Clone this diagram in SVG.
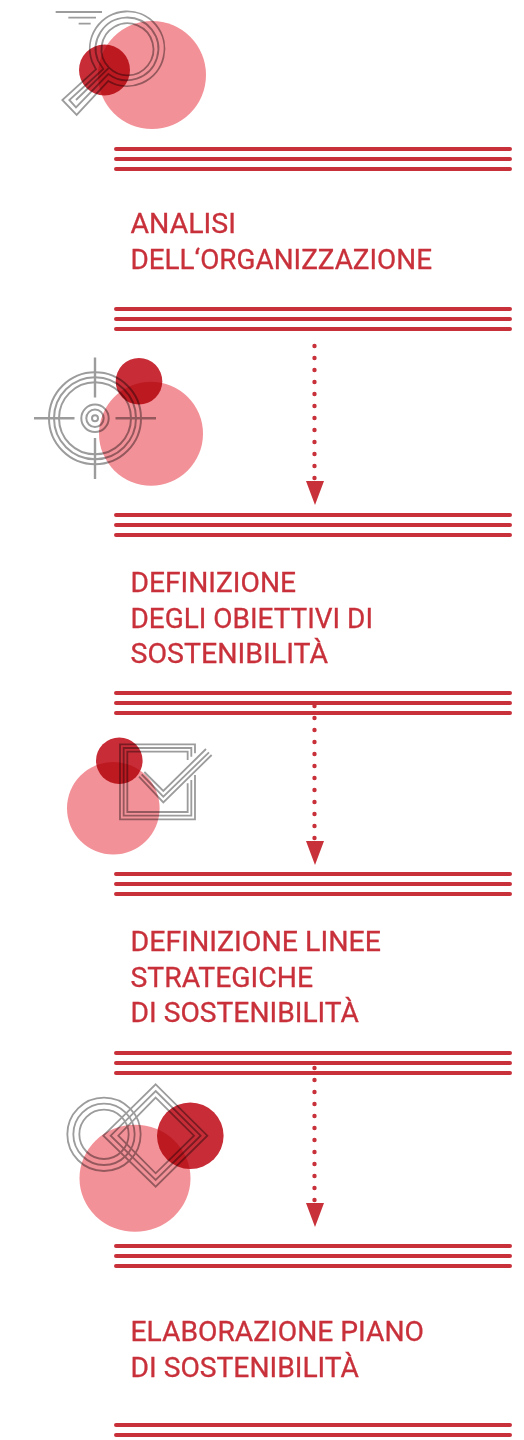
<svg xmlns="http://www.w3.org/2000/svg" width="524" height="1440" viewBox="0 0 524 1440">
<style>
.big{fill:#f39198}
.small{fill:#c72c37;mix-blend-mode:multiply}
.ln{fill:none;stroke:#9c9c9c;mix-blend-mode:multiply}
.bar{stroke:#c8303a;stroke-width:4;stroke-linecap:round;fill:none}
.dot{stroke:#c8303a;stroke-width:4.400;stroke-linecap:round;stroke-dasharray:0 12;fill:none}
.head{fill:#c8303a}
text{font-family:"Roboto","Liberation Sans",sans-serif;font-size:27px;fill:#c8303a;stroke:#c8303a;stroke-width:.3px}
</style>
<rect width="524" height="1440" fill="#fff"/>
<g id="connectors">
<path class="dot" d="M314.500 346V480"/><path class="head" d="M306 481H324L315 505Z"/>
<path class="dot" d="M314.500 706V840"/><path class="head" d="M306 841H324L315 865Z"/>
<path class="dot" d="M314.500 1068V1202"/><path class="head" d="M306 1203H324L315 1227Z"/>
</g>
<g id="icon-1">
<circle class="big" cx="152" cy="75" r="54"/>
<circle class="small" cx="104.500" cy="70" r="25.500"/>
<g class="ln" transform="translate(40 0) scale(.3333)" stroke-width="5.500">
<path d="M47 36H186M85 53H168M116 71H152"/>
<path d="M168 208L67 300L110 345L205 243A112 112 0 1 0 156 184Z"/>
<path d="M190 207L88 300L108 322L205 222A94 94 0 1 0 174 182Z"/>
<path d="M108 300L207 203A78 78 0 1 1 262 226A78 78 0 0 1 207 203"/>
</g>
</g>
<g id="icon-2">
<circle class="big" cx="151" cy="433.700" r="52"/>
<circle class="small" cx="139" cy="381.300" r="23.300"/>
<g class="ln" stroke-width="2">
<circle cx="95" cy="418.300" r="46"/><circle cx="95" cy="418.300" r="41"/><circle cx="95" cy="418.300" r="36"/>
<circle cx="95" cy="418.300" r="13.700"/><circle cx="95" cy="418.300" r="8.700"/><circle cx="95" cy="418.300" r="3"/>
<path stroke-width="2.400" d="M95 357.500V397.500M95 438V479M34 418.300H74.500M115.500 418.300H156"/>
</g>
</g>
<g id="icon-3">
<circle class="big" cx="113.300" cy="808.300" r="46.300"/>
<circle class="small" cx="119.300" cy="760.700" r="23.300"/>
<g class="ln" transform="translate(50 725) scale(.3333)" stroke-width="5.500">
<path d="M435 150V283H210V58H435V85"/>
<path d="M424 165V272H221V69H424V95"/>
<path d="M413 175V261H232V80H413V105"/>
<path d="M267 155L340 232L485 90M275 148L340 215L477 82M283 141L340 198L468 72"/>
</g>
</g>
<g id="icon-4">
<ellipse class="big" cx="135" cy="1178.300" rx="55.500" ry="53.500"/>
<circle class="small" cx="190.300" cy="1135.700" r="33.300"/>
<g class="ln" transform="translate(50 1075) scale(.3333)" stroke-width="5.500">
<circle cx="162" cy="178" r="110"/><circle cx="162" cy="178" r="92"/><circle cx="162" cy="178" r="74"/>
<path d="M317 28L472 182L317 335L160 182Z"/>
<path d="M317 48L452 182L317 315L182 182Z"/>
<path d="M317 68L432 182L317 295L205 182Z"/>
</g>
</g>
<g id="bars">
<path class="bar" d="M116 149H510M116 159H510M116 169H510"/>
<path class="bar" d="M116 309H510M116 319H510M116 329H510"/>
<path class="bar" d="M116 515H510M116 525H510M116 535H510"/>
<path class="bar" d="M116 693H510M116 703H510M116 713H510"/>
<path class="bar" d="M116 874H510M116 884H510M116 894H510"/>
<path class="bar" d="M116 1053H510M116 1063H510M116 1073H510"/>
<path class="bar" d="M116 1246H510M116 1256H510M116 1266H510"/>
<path class="bar" d="M116 1425H510M116 1435H510"/>
</g>
<g id="step-1">
<text x="130.500" y="233" textLength="105.500" lengthAdjust="spacingAndGlyphs">ANALISI</text>
<text x="130.500" y="269" textLength="301.500" lengthAdjust="spacingAndGlyphs">DELL‘ORGANIZZAZIONE</text>
</g>
<g id="step-2">
<text x="130.500" y="592" textLength="165.500" lengthAdjust="spacingAndGlyphs">DEFINIZIONE</text>
<text x="130.500" y="628" textLength="242.500" lengthAdjust="spacingAndGlyphs">DEGLI OBIETTIVI DI</text>
<text x="130.500" y="663" textLength="197.500" lengthAdjust="spacingAndGlyphs">SOSTENIBILITÀ</text>
</g>
<g id="step-3">
<text x="130.500" y="951" textLength="250.500" lengthAdjust="spacingAndGlyphs">DEFINIZIONE LINEE</text>
<text x="130.500" y="987" textLength="182.500" lengthAdjust="spacingAndGlyphs">STRATEGICHE</text>
<text x="130.500" y="1022" textLength="228.500" lengthAdjust="spacingAndGlyphs">DI SOSTENIBILITÀ</text>
</g>
<g id="step-4">
<text x="130.500" y="1341" textLength="293.500" lengthAdjust="spacingAndGlyphs">ELABORAZIONE PIANO</text>
<text x="130.500" y="1377" textLength="228.500" lengthAdjust="spacingAndGlyphs">DI SOSTENIBILITÀ</text>
</g>
</svg>
